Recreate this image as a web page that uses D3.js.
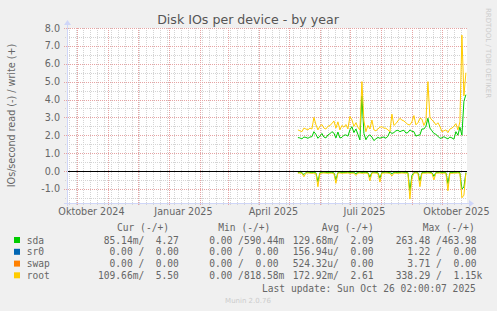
<!DOCTYPE html>
<html>
<head>
<meta charset="utf-8">
<script src="https://cdn.jsdelivr.net/npm/d3@7"></script>
<style>
  body { margin: 0; background: #f0f0f0; }
  svg { display: block; }
  text { font-family: "DejaVu Sans", sans-serif; fill: #666; }
  .mono { font-family: "DejaVu Sans Mono", monospace; white-space: pre; }
</style>
</head>
<body>
<svg width="497" height="311"></svg>
<script>
// time window of the year graph (400 days)
const viewStart = new Date(2024, 8, 21, 2);
const viewEnd = new Date(2025, 9, 26, 2);
// samples every 2 days from here
const dataStart = new Date(2025, 4, 10);
const stepDays = 2;

const sdaWrite = [1.87,1.85,1.80,1.90,1.88,1.83,1.90,1.92,2.20,2.05,
  1.83,1.95,2.10,1.90,1.85,2.02,2.08,2.20,2.12,1.85,
  2.18,1.85,1.88,2.00,2.02,1.95,2.30,2.48,2.15,2.35,
  2.05,1.74,4.20,2.10,1.75,1.95,2.02,1.90,1.70,1.80,
  1.88,1.83,1.88,1.90,1.83,1.95,2.20,2.10,2.15,2.25,
  2.28,2.20,2.25,2.28,2.12,2.15,2.30,2.22,2.20,1.95,
  2.00,2.02,2.35,2.35,2.50,2.95,2.40,2.25,2.10,2.05,
  1.95,1.83,1.85,1.92,1.85,1.80,1.90,1.85,1.78,2.20,
  2.00,2.45,2.00,3.90,4.27];
const rootWrite = [2.30,2.25,2.20,2.40,2.35,2.30,2.40,2.35,3.00,2.60,
  2.30,2.50,2.60,2.40,2.35,2.50,2.55,2.65,2.80,2.40,
  2.75,2.30,2.55,2.45,2.60,2.35,3.05,2.86,2.50,2.70,
  2.45,2.30,5.00,2.80,2.20,2.55,2.35,2.85,2.30,2.25,
  2.35,2.45,2.48,2.40,2.39,2.30,2.20,3.18,2.55,2.65,
  2.80,2.95,2.85,2.80,2.70,2.60,2.58,2.75,3.10,2.58,
  2.70,2.95,2.90,2.55,2.80,5.00,3.00,2.85,2.75,2.58,
  2.70,2.50,2.20,2.25,2.30,2.15,2.35,2.40,2.50,2.65,
  2.30,2.75,7.60,4.20,5.50];
const sdaRead = [0.08,0.07,0.09,0.20,0.08,0.07,0.08,0.09,0.08,0.10,
  0.60,0.09,0.08,0.07,0.08,0.09,0.08,0.08,0.10,0.50,
  0.08,0.07,0.09,0.08,0.08,0.07,0.09,0.08,0.08,0.15,
  0.08,0.07,0.09,0.08,0.08,0.09,0.35,0.08,0.07,0.08,
  0.09,0.40,0.08,0.08,0.07,0.08,0.09,0.15,0.08,0.08,
  0.09,0.08,0.07,0.08,0.08,0.09,1.10,0.25,0.08,0.07,
  0.08,0.55,0.09,0.08,0.08,0.07,0.08,0.09,0.30,0.08,
  0.08,0.07,0.09,0.08,0.08,0.70,0.08,0.09,0.08,0.08,
  0.07,0.09,1.00,0.90,0.085];
const rootRead = [0.12,0.11,0.13,0.32,0.12,0.11,0.12,0.13,0.12,0.14,
  0.88,0.13,0.12,0.11,0.12,0.13,0.12,0.12,0.14,0.69,
  0.12,0.11,0.13,0.12,0.12,0.11,0.13,0.12,0.12,0.25,
  0.12,0.11,0.13,0.12,0.12,0.13,0.55,0.12,0.11,0.12,
  0.13,0.62,0.12,0.12,0.11,0.12,0.13,0.28,0.12,0.12,
  0.13,0.12,0.11,0.12,0.12,0.13,1.57,0.40,0.12,0.11,
  0.12,0.88,0.13,0.12,0.12,0.11,0.12,0.13,0.50,0.12,
  0.12,0.11,0.13,0.12,0.12,1.10,0.12,0.13,0.12,0.12,
  0.11,0.13,1.50,1.35,0.11];

const yTicks = [-1, 0, 1, 2, 3, 4, 5, 6, 7, 8];
const xLabelDates = [new Date(2024, 9, 1), new Date(2025, 0, 1), new Date(2025, 3, 1), new Date(2025, 6, 1), new Date(2025, 9, 1)];
const xLabels = ["Oktober 2024", "Januar 2025", "April 2025", "Juli 2025", "Oktober 2025"];

const legendNames = ["sda", "sr0", "swap", "root"];
const legendColors = ["#00cc00", "#0066b3", "#ff8000", "#ffcc00"];
const curText = [" 85.14m/  4.27", "  0.00 /  0.00", "  0.00 /  0.00", "109.66m/  5.50"];
const minText = ["  0.00 /590.44m", "  0.00 /  0.00", "  0.00 /  0.00", "  0.00 /818.58m"];
const avgText = ["129.68m/  2.09", "156.94u/  0.00", "524.32u/  0.00", "172.92m/  2.61"];
const maxText = ["263.48 /463.98", "  1.22 /  0.00", "  3.71 /  0.00", "338.29 /  1.15k"];

const svg = d3.select('svg');
const plotLeft = 67, plotRight = 467, plotTop = 28, plotBottom = 203;

const x = d3.scaleTime().domain([viewStart, viewEnd]).range([plotLeft, plotRight]);
const y = d3.scaleLinear().domain([-1.79, 8]).range([plotBottom, plotTop]);
const px = v => Math.round(v) + 0.5;
const dateAt = i => d3.timeDay.offset(dataStart, i * stepDays);

// canvas
svg.append('rect')
  .attr('x', plotLeft).attr('y', plotTop)
  .attr('width', plotRight - plotLeft).attr('height', plotBottom - plotTop)
  .attr('fill', '#fff');

// minor grid
const minorY = d3.range(-1.5, 8, 0.5).filter(v => v % 1 !== 0);
svg.append('g').selectAll('line').data(minorY).enter().append('line')
  .attr('x1', plotLeft - 2).attr('x2', plotRight)
  .attr('y1', d => px(y(d))).attr('y2', d => px(y(d)))
  .attr('stroke', '#d4d4d4').attr('stroke-dasharray', '1,1');
const mondays = d3.timeMonday.range(viewStart, viewEnd);
svg.append('g').selectAll('line').data(mondays).enter().append('line')
  .attr('x1', d => px(x(d))).attr('x2', d => px(x(d)))
  .attr('y1', plotTop).attr('y2', plotBottom + 2)
  .attr('stroke', '#d4d4d4').attr('stroke-dasharray', '1,1');

// major grid
svg.append('g').selectAll('line').data(yTicks).enter().append('line')
  .attr('x1', plotLeft - 3).attr('x2', plotRight)
  .attr('y1', d => px(y(d))).attr('y2', d => px(y(d)))
  .attr('stroke', '#e6a3a3').attr('stroke-dasharray', '1,1');
const months = d3.timeMonth.range(viewStart, viewEnd);
svg.append('g').selectAll('line').data(months).enter().append('line')
  .attr('x1', d => px(x(d))).attr('x2', d => px(x(d)))
  .attr('y1', plotTop).attr('y2', plotBottom + 3)
  .attr('stroke', '#e6a3a3').attr('stroke-dasharray', '1,1');

// axis labels
const yAxis = d3.axisLeft(y).tickValues(yTicks).tickFormat(d => d.toFixed(1)).tickSize(0).tickPadding(7);
const gy = svg.append('g').attr('transform', 'translate(' + plotLeft + ',0)').call(yAxis);
gy.select('.domain').remove();
gy.selectAll('text').style('font-size', '9.6px').attr('fill', '#666').attr('font-family', 'DejaVu Sans');

const xAxis = d3.axisBottom(x).tickValues(xLabelDates).tickFormat((d, i) => xLabels[i]).tickSize(0).tickPadding(5);
const gx = svg.append('g').attr('transform', 'translate(0,' + plotBottom + ')').call(xAxis);
gx.select('.domain').remove();
gx.selectAll('text').attr('dx', 14).style('font-size', '9.6px').attr('fill', '#666').attr('font-family', 'DejaVu Sans');

// data lines
const writeLine = arr => d3.line().x((d, i) => x(dateAt(i))).y(d => y(d))(arr);
const readLine = arr => d3.line().x((d, i) => x(dateAt(i))).y(d => y(-d))(arr);

svg.append('path').attr('d', writeLine(sdaWrite)).attr('fill', 'none').attr('stroke', legendColors[0]).attr('stroke-width', 1);
svg.append('path').attr('d', readLine(sdaRead)).attr('fill', 'none').attr('stroke', legendColors[0]).attr('stroke-width', 1);
svg.append('path').attr('d', writeLine(rootWrite)).attr('fill', 'none').attr('stroke', legendColors[3]).attr('stroke-width', 1);
svg.append('path').attr('d', readLine(rootRead)).attr('fill', 'none').attr('stroke', legendColors[3]).attr('stroke-width', 1);

// zero rule
svg.append('line')
  .attr('x1', plotLeft).attr('x2', plotRight)
  .attr('y1', px(y(0))).attr('y2', px(y(0)))
  .attr('stroke', '#000');

// axes with arrows
const axisColor = '#cfd6f8';
svg.append('line').attr('x1', plotLeft - 3).attr('x2', plotRight + 3)
  .attr('y1', px(plotBottom)).attr('y2', px(plotBottom)).attr('stroke', axisColor);
svg.append('line').attr('x1', px(plotLeft)).attr('x2', px(plotLeft))
  .attr('y1', plotBottom + 3).attr('y2', plotTop - 4).attr('stroke', axisColor);
svg.append('path').attr('d', `M${plotRight + 2},${plotBottom - 3}L${plotRight + 7},${plotBottom + 0.5}L${plotRight + 2},${plotBottom + 4}Z`).attr('fill', axisColor);
svg.append('path').attr('d', `M${plotLeft - 3},${plotTop - 3}L${plotLeft + 0.5},${plotTop - 8}L${plotLeft + 4},${plotTop - 3}Z`).attr('fill', axisColor);

// title and axis title
svg.append('text')
  .attr('x', 248).attr('y', 23.5)
  .attr('text-anchor', 'middle')
  .style('font-size', '12.6px')
  .style('fill', '#555')
  .text('Disk IOs per device - by year');

svg.append('text')
  .attr('transform', 'translate(15,115.5) rotate(-90)')
  .attr('text-anchor', 'middle')
  .style('font-size', '9.6px')
  .text('IOs/second read (-) / write (+)');

svg.append('text')
  .attr('transform', 'translate(486,53) rotate(90)')
  .attr('text-anchor', 'middle')
  .style('font-size', '7px')
  .style('fill', '#cccccc')
  .text('RRDTOOL / TOBI OETIKER');

// legend
const mono = (tx, ty, s) => svg.append('text')
  .attr('class', 'mono')
  .attr('xml:space', 'preserve')
  .attr('x', tx).attr('y', ty)
  .style('font-size', '9.6px')
  .text(s);

mono(117, 230.8, 'Cur (-/+)');
mono(218.3, 230.8, 'Min (-/+)');
mono(321.7, 230.8, 'Avg (-/+)');
mono(422.7, 230.8, 'Max (-/+)');

const rowY = [243.5, 255.3, 267.1, 278.8];
legendNames.forEach((name, i) => {
  svg.append('rect')
    .attr('x', 14).attr('y', rowY[i] - 6.5)
    .attr('width', 6).attr('height', 6)
    .attr('fill', legendColors[i]);
  mono(26.7, rowY[i], name);
  mono(98, rowY[i], curText[i]);
  mono(197.7, rowY[i], minText[i]);
  mono(292.7, rowY[i], avgText[i]);
  mono(395.7, rowY[i], maxText[i]);
});

mono(262, 291.8, 'Last update: Sun Oct 26 02:00:07 2025');

svg.append('text')
  .attr('x', 248).attr('y', 302.5)
  .attr('text-anchor', 'middle')
  .style('font-size', '7px')
  .style('fill', '#cccccc')
  .text('Munin 2.0.76');
</script>
</body>
</html>
